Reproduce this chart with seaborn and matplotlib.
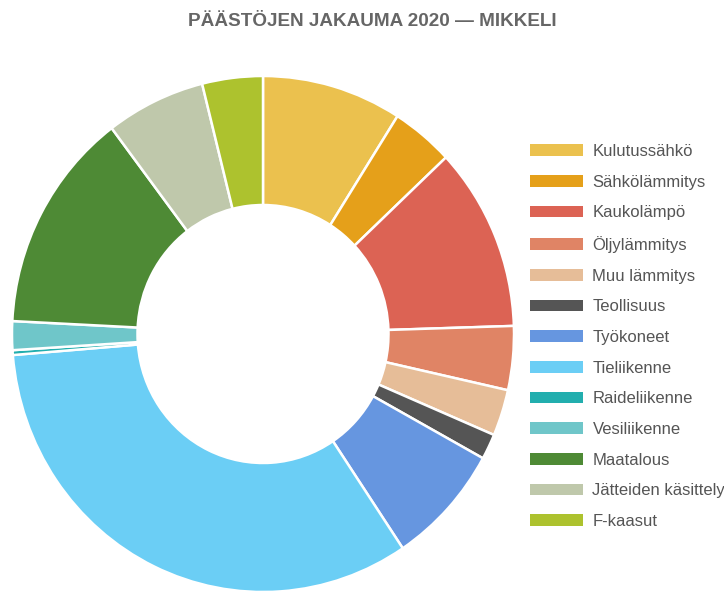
import matplotlib
matplotlib.use("Agg")
import matplotlib.pyplot as plt
import matplotlib.patches as mpatches
import seaborn as sns

# Data (osuudet %, luettu kuvasta)
sektorit = ["Kulutussähkö", "Sähkölämmitys", "Kaukolämpö", "Öljylämmitys",
            "Muu lämmitys", "Teollisuus", "Työkoneet", "Tieliikenne",
            "Raideliikenne", "Vesiliikenne", "Maatalous", "Jätteiden käsittely",
            "F-kaasut"]
osuudet = [9.0, 4.0, 11.5, 4.0, 2.9, 1.6, 7.6, 33.1, 0.3, 1.8, 13.9, 6.4, 3.9]
varit = ["#EBC14E", "#E5A01A", "#DC6354", "#E08465", "#E6BD98", "#555555",
         "#6696E0", "#6BCEF5", "#22AEAE", "#6FC6C9", "#4E8A35", "#BFC8AB",
         "#ADC22E"]

sns.set_theme(style="white")
plt.rcParams["font.family"] = ["Liberation Sans", "DejaVu Sans"]
paletti = sns.color_palette(varit)

fig = plt.figure(figsize=(7.24, 5.93), dpi=100)
W, H = 724, 593
cx, cy, rx, ry = 263, 334, 251, 258
ax = fig.add_axes([(cx - rx) / W, (H - cy - ry) / H, 2 * rx / W, 2 * ry / H])
ax.pie(osuudet, colors=paletti, startangle=90, counterclock=False,
       radius=1, wedgeprops=dict(width=0.5, edgecolor="white", linewidth=1.8))
ax.set_xlim(-1, 1)
ax.set_ylim(-1, 1)
ax.set_aspect("auto")
ax.axis("off")

fig.text(372 / W, 1 - 22 / H, "PÄÄSTÖJEN JAKAUMA 2020 — MIKKELI",
         ha="center", va="center", fontsize=13.6, fontweight="bold", color="#666666")

kahvat = [mpatches.Patch(facecolor=c, edgecolor="none") for c in paletti]
fig.legend(kahvat, sektorit, loc="upper left",
           bbox_to_anchor=(530 / W, 1 - 144 / H), frameon=False,
           fontsize=12, labelcolor="#555555", handlelength=3.2,
           handleheight=0.72, handletextpad=0.55, labelspacing=0.94,
           borderaxespad=0, borderpad=0)

fig.savefig("out.png", dpi=100)
